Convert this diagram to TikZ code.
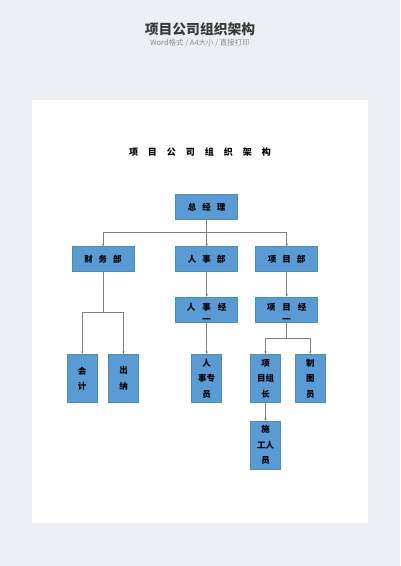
\documentclass[tikz,border=0pt]{standalone}
\usepackage{fontspec}
\setmainfont{Noto Sans CJK SC}
\usetikzlibrary{arrows.meta}
\definecolor{bgc}{HTML}{ECEFF4}
\definecolor{boxfill}{HTML}{5B9BD5}
\definecolor{boxline}{HTML}{4E8FA8}
\definecolor{linec}{HTML}{7F7F7F}
\definecolor{titc}{HTML}{3A3A3A}
\definecolor{subc}{HTML}{8A8F99}
\begin{document}
\begin{tikzpicture}[x=1pt,y=-1pt,
  wbox/.style={draw=boxline,line width=0.8pt,fill=boxfill,minimum width=62pt,minimum height=25pt,inner sep=0pt,font=\bfseries\fontsize{8.5}{16}\selectfont,align=center},
  tbox/.style={draw=boxline,line width=0.8pt,fill=boxfill,minimum width=30pt,minimum height=48.5pt,inner sep=0pt,font=\bfseries\fontsize{8.5}{15.5}\selectfont,align=center},
  lowtext/.style={label={[yshift=-3.5pt,inner sep=0pt,align=center,font=\bfseries\fontsize{8.5}{12}\selectfont]center:#1}},
  conn/.style={draw=linec,line width=0.6pt,-{Stealth[length=2.5pt,width=2.5pt]}},
  plain/.style={draw=linec,line width=0.6pt}]
\useasboundingbox (0,0) rectangle (400,566);
\fill[bgc] (0,0) rectangle (400,566);
\fill[black!6] (31,99) rectangle (369,524);
\fill[white] (32,100) rectangle (368,523);
\node[font=\bfseries\fontsize{13.8}{14}\selectfont,text=titc] (title) at (200,29) {项目公司组织架构};
\node[font=\fontsize{7.5}{8}\selectfont,text=subc] (sub) at (200,43) {Word格式 / A4大小 / 直接打印};
\node[font=\bfseries\fontsize{9}{9}\selectfont] (itit) at (200,152) {项\hspace{10pt}目\hspace{10pt}公\hspace{10pt}司\hspace{10pt}组\hspace{10pt}织\hspace{10pt}架\hspace{10pt}构};
\node[wbox] (gm) at (206.7,206.8) {总\hspace{6pt}经\hspace{6pt}理};
\node[wbox] (cw) at (103,259) {财\hspace{6pt}务\hspace{6pt}部};
\node[wbox] (rs) at (206.7,259) {人\hspace{6pt}事\hspace{6pt}部};
\node[wbox] (xm) at (286.7,259) {项\hspace{6pt}目\hspace{6pt}部};
\node[wbox,lowtext={人\hspace{7pt}事\hspace{7pt}经\\一}] (rsjl) at (206.7,309.5) {};
\node[wbox,lowtext={项\hspace{7pt}目\hspace{7pt}经\\一}] (xmjl) at (286.7,309.5) {};
\node[tbox] (kj) at (82.2,378.5) {会\\计};
\node[tbox] (cn) at (123.5,378.5) {出\\纳};
\node[tbox] (rszy) at (206.7,378.5) {人\\事专\\员};
\node[tbox] (xmzz) at (265.5,378.5) {项\\目组\\长};
\node[tbox] (zty) at (310.3,378.5) {制\\图\\员};
\node[tbox] (sgry) at (265.5,445.2) {施\\工人\\员};
\coordinate (j1) at (206.7,232.7);
\draw[plain] (gm.south) -- (j1);
\draw[conn] (j1) -| (cw.north);
\draw[conn] (j1) -| (xm.north);
\draw[conn] (j1) -- (rs.north);
\draw[conn] (rs.south) -- (rsjl.north);
\draw[conn] (xm.south) -- (xmjl.north);
\coordinate (j2) at (103,312.7);
\draw[plain] (cw.south) -- (j2);
\draw[conn] (j2) -| (kj.north);
\draw[conn] (j2) -| (cn.north);
\draw[conn] (rsjl.south) -- (rszy.north);
\coordinate (j3) at (286.7,338.3);
\draw[plain] (xmjl.south) -- (j3);
\draw[conn] (j3) -| (xmzz.north);
\draw[conn] (j3) -| (zty.north);
\draw[conn] (xmzz.south) -- (sgry.north);
\end{tikzpicture}
\end{document}
